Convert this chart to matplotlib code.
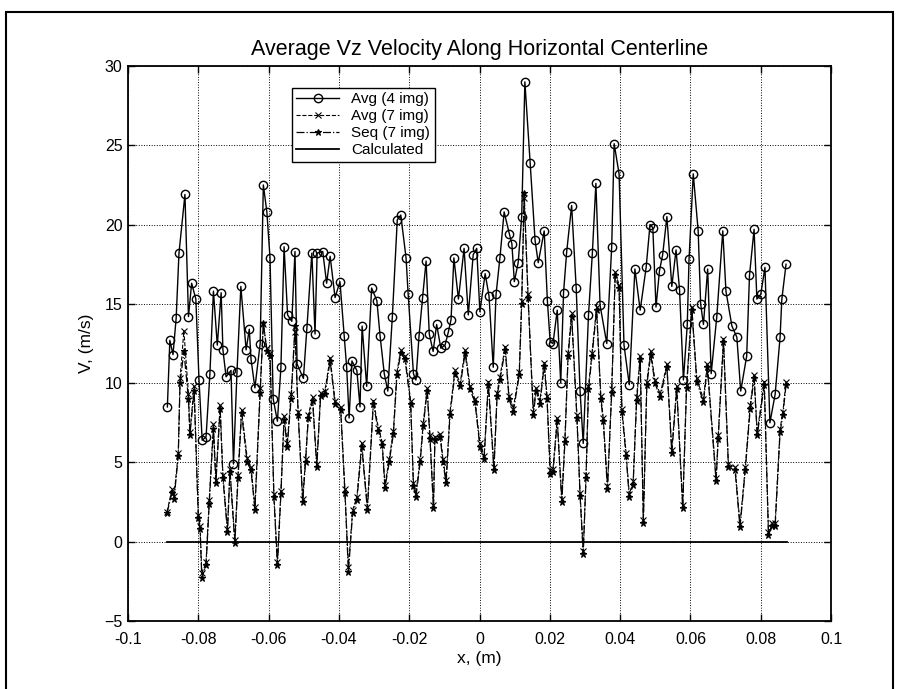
import matplotlib.pyplot as plt
from matplotlib import rcParams
from matplotlib.patches import Rectangle
import numpy as np

rcParams['font.family'] = 'sans-serif'
rcParams['font.sans-serif'] = ['Liberation Sans', 'DejaVu Sans']
rcParams['font.size'] = 11

# Avg (4 img) - circles : position (m) and velocity (m/s)
x_avg4 = [-0.0888, -0.0881, -0.0872, -0.0863, -0.0855, -0.0838, -0.0828, -0.0819, -0.0807, -0.0798,
          -0.0789, -0.0778, -0.0767, -0.0757, -0.0746, -0.0735, -0.0730, -0.0721, -0.0707, -0.0700,
          -0.0690, -0.0679, -0.0664, -0.0655, -0.0650, -0.0639, -0.0624, -0.0615, -0.0605, -0.0596,
          -0.0587, -0.0575, -0.0565, -0.0556, -0.0546, -0.0534, -0.0525, -0.0519, -0.0501, -0.0491,
          -0.0477, -0.0468, -0.0462, -0.0446, -0.0435, -0.0425, -0.0411, -0.0397, -0.0385, -0.0378,
          -0.0371, -0.0363, -0.0349, -0.0340, -0.0334, -0.0321, -0.0307, -0.0292, -0.0283, -0.0271,
          -0.0261, -0.0248, -0.0234, -0.0224, -0.0209, -0.0203, -0.0188, -0.0181, -0.0172, -0.0162,
          -0.0152, -0.0143, -0.0132, -0.0122, -0.0110, -0.0098, -0.0089, -0.0081, -0.0073, -0.0060,
          -0.0044, -0.0032, -0.0018, -0.0008, 0.0001, 0.0016, 0.0027, 0.0039, 0.0047, 0.0058,
          0.0070, 0.0085, 0.0092, 0.0099, 0.0110, 0.0120, 0.0129, 0.0144, 0.0158, 0.0167,
          0.0184, 0.0193, 0.0201, 0.0209, 0.0221, 0.0231, 0.0239, 0.0248, 0.0262, 0.0275,
          0.0286, 0.0295, 0.0310, 0.0321, 0.0331, 0.0343, 0.0362, 0.0376, 0.0383, 0.0397,
          0.0411, 0.0426, 0.0442, 0.0457, 0.0474, 0.0485, 0.0493, 0.0502, 0.0512, 0.0521,
          0.0533, 0.0547, 0.0559, 0.0569, 0.0580, 0.0591, 0.0596, 0.0608, 0.0622, 0.0629,
          0.0637, 0.0649, 0.0659, 0.0675, 0.0692, 0.0701, 0.0718, 0.0732, 0.0743, 0.0760,
          0.0768, 0.0781, 0.0789, 0.0800, 0.0812, 0.0826, 0.0841, 0.0855, 0.0860, 0.0872]
avg4 = [8.5, 12.7, 11.8, 14.1, 18.2, 21.9, 14.2, 16.3, 15.3, 10.2,
        6.4, 6.6, 10.6, 15.8, 12.4, 15.7, 12.1, 10.4, 10.8, 4.9,
        10.7, 16.1, 12.1, 13.4, 11.5, 9.7, 12.5, 22.5, 20.8, 17.9,
        9.0, 7.6, 11.0, 18.6, 14.3, 13.9, 18.3, 11.2, 10.3, 13.5,
        18.2, 13.1, 18.2, 18.3, 16.3, 18.0, 15.4, 16.4, 13.0, 11.0,
        7.8, 11.4, 10.8, 8.5, 13.6, 9.8, 16.0, 15.2, 13.0, 10.6,
        9.5, 14.2, 20.3, 20.6, 17.9, 15.6, 10.6, 10.2, 13.0, 15.4,
        17.7, 13.1, 12.0, 13.7, 12.2, 12.4, 13.2, 14.0, 17.9, 15.3,
        18.5, 14.3, 18.1, 18.5, 14.5, 16.9, 15.5, 11.0, 15.6, 17.9,
        20.8, 19.4, 18.8, 16.4, 17.6, 20.5, 29.0, 23.9, 19.0, 17.6,
        19.6, 15.2, 12.6, 12.5, 14.6, 10.0, 15.7, 18.3, 21.2, 16.0,
        9.5, 6.2, 14.3, 18.2, 22.6, 14.9, 12.5, 18.6, 25.1, 23.2,
        12.4, 9.9, 17.2, 14.6, 17.3, 20.0, 19.8, 14.8, 17.1, 18.1,
        20.5, 16.1, 18.4, 15.9, 10.2, 13.7, 17.8, 23.2, 19.6, 15.0,
        13.7, 17.2, 10.6, 14.2, 19.6, 15.8, 13.6, 12.9, 9.5, 11.7,
        16.8, 19.7, 15.3, 15.6, 17.3, 7.5, 9.3, 12.9, 15.3, 17.5]

# Avg (7 img) and Seq (7 img) share the same positions
x_7img = [-0.0889, -0.0875, -0.0869, -0.0857, -0.0852, -0.0841, -0.0828, -0.0824, -0.0812, -0.0800,
          -0.0795, -0.0790, -0.0778, -0.0769, -0.0757, -0.0750, -0.0738, -0.0730, -0.0717, -0.0710,
          -0.0696, -0.0687, -0.0677, -0.0661, -0.0650, -0.0639, -0.0624, -0.0615, -0.0605, -0.0596,
          -0.0585, -0.0575, -0.0565, -0.0556, -0.0547, -0.0536, -0.0525, -0.0516, -0.0503, -0.0495,
          -0.0487, -0.0475, -0.0463, -0.0452, -0.0440, -0.0425, -0.0411, -0.0395, -0.0383, -0.0373,
          -0.0361, -0.0349, -0.0335, -0.0319, -0.0302, -0.0288, -0.0277, -0.0269, -0.0257, -0.0245,
          -0.0235, -0.0224, -0.0212, -0.0196, -0.0188, -0.0181, -0.0169, -0.0160, -0.0149, -0.0141,
          -0.0131, -0.0127, -0.0112, -0.0104, -0.0095, -0.0084, -0.0070, -0.0055, -0.0041, -0.0027,
          -0.0013, 0.0001, 0.0013, 0.0025, 0.0041, 0.0050, 0.0058, 0.0073, 0.0084, 0.0096,
          0.0113, 0.0120, 0.0127, 0.0138, 0.0153, 0.0161, 0.0172, 0.0184, 0.0192, 0.0201,
          0.0209, 0.0221, 0.0234, 0.0243, 0.0252, 0.0262, 0.0277, 0.0286, 0.0295, 0.0303,
          0.0310, 0.0320, 0.0333, 0.0345, 0.0352, 0.0364, 0.0376, 0.0386, 0.0397, 0.0405,
          0.0417, 0.0426, 0.0437, 0.0447, 0.0457, 0.0466, 0.0476, 0.0487, 0.0499, 0.0514,
          0.0533, 0.0547, 0.0561, 0.0578, 0.0589, 0.0604, 0.0618, 0.0637, 0.0648, 0.0673,
          0.0679, 0.0694, 0.0708, 0.0727, 0.0741, 0.0756, 0.0770, 0.0781, 0.0790, 0.0810,
          0.0822, 0.0831, 0.0841, 0.0855, 0.0863, 0.0872]

seq7 = [1.8, 3.1, 2.7, 5.4, 10.0, 12.0, 9.0, 6.7, 9.5, 1.5,
        0.8, -2.3, -1.5, 2.4, 7.1, 3.7, 8.4, 4.0, 0.6, 4.4,
        -0.1, 4.0, 8.1, 5.0, 4.5, 2.0, 9.4, 13.8, 12.0, 11.7,
        2.8, -1.5, 3.0, 7.7, 6.0, 9.0, 13.6, 8.0, 2.5, 5.0,
        7.8, 8.9, 4.7, 9.2, 9.3, 11.4, 8.7, 8.3, 3.1, -1.9,
        1.8, 2.6, 6.0, 2.0, 8.7, 7.0, 6.1, 3.4, 5.0, 6.8,
        10.5, 11.9, 11.5, 8.7, 3.5, 2.8, 5.0, 7.3, 9.5, 6.5,
        2.1, 6.4, 6.6, 5.0, 3.7, 8.0, 10.6, 9.8, 11.9, 9.6,
        8.8, 6.0, 5.2, 9.9, 4.5, 9.2, 10.2, 12.1, 9.0, 8.2,
        10.5, 15.0, 22.0, 15.4, 8.0, 9.5, 8.7, 11.1, 9.0, 4.3,
        4.4, 7.6, 2.5, 6.3, 11.7, 14.2, 7.8, 2.9, -0.8, 4.0,
        9.6, 11.7, 14.6, 9.0, 7.6, 3.3, 9.4, 16.8, 16.0, 8.2,
        5.4, 2.8, 3.6, 8.9, 11.5, 1.2, 9.9, 11.8, 10.0, 9.1,
        11.0, 5.6, 9.6, 2.1, 9.7, 14.6, 10.1, 8.8, 11.0, 3.8,
        6.5, 12.6, 4.7, 4.5, 0.9, 4.5, 8.4, 10.3, 6.7, 9.9,
        0.4, 1.0, 1.0, 6.9, 8.0, 9.9]

avg7 = [1.9, 3.3, 2.9, 5.6, 10.3, 13.3, 9.3, 6.9, 9.8, 1.7,
        1.0, -2.0, -1.3, 2.6, 7.4, 3.9, 8.6, 4.2, 0.8, 4.6,
        0.1, 4.2, 8.3, 5.3, 4.7, 2.2, 9.7, 13.7, 12.2, 11.9,
        3.0, -1.3, 3.2, 7.9, 6.2, 9.3, 13.2, 8.2, 2.7, 5.2,
        8.0, 9.1, 4.9, 9.4, 9.5, 11.6, 8.9, 8.5, 3.3, -1.6,
        2.0, 2.8, 6.2, 2.2, 8.9, 7.2, 6.3, 3.6, 5.2, 7.0,
        10.7, 12.1, 11.7, 8.9, 3.7, 3.0, 5.2, 7.5, 9.7, 6.7,
        2.3, 6.6, 6.8, 5.2, 3.9, 8.2, 10.8, 10.0, 12.1, 9.8,
        9.0, 6.2, 5.4, 10.1, 4.7, 9.4, 10.4, 12.3, 9.2, 8.4,
        10.7, 15.2, 21.7, 15.6, 8.2, 9.7, 8.9, 11.3, 9.2, 4.5,
        4.6, 7.8, 2.7, 6.5, 11.9, 14.4, 8.0, 3.1, -0.6, 4.2,
        9.8, 11.9, 14.8, 9.2, 7.8, 3.5, 9.6, 17.0, 16.2, 8.4,
        5.6, 3.0, 3.8, 9.1, 11.7, 1.4, 10.1, 12.0, 10.2, 9.3,
        11.2, 5.8, 9.8, 2.3, 9.9, 14.8, 10.3, 9.0, 11.2, 4.0,
        6.7, 12.8, 4.9, 4.7, 1.1, 4.7, 8.6, 10.5, 6.9, 10.1,
        0.6, 1.2, 1.2, 7.1, 8.2, 10.1]

# Calculated - zero along the whole line
x_calc = [-0.0889, 0.0875]
calc = [0.0, 0.0]

fig = plt.figure(figsize=(9.04, 6.89), dpi=100)
ax = fig.add_axes([0.1416, 0.0987, 0.7777, 0.8055])

ax.plot(x_avg4, avg4, '-o', color='k', lw=1.0, ms=6, mfc='none', mew=1.0,
        label='Avg (4 img)')
ax.plot(x_7img, avg7, '--x', color='k', lw=0.8, ms=4, mew=0.8,
        label='Avg (7 img)')
ax.plot(x_7img, seq7, '-.*', color='k', lw=0.9, ms=5, mew=0.8,
        label='Seq (7 img)')
ax.plot(x_calc, calc, '-', color='k', lw=1.3, label='Calculated')

ax.set_xlim(-0.1, 0.1)
ax.set_ylim(-5, 30)
ax.set_xticks(np.arange(-0.1, 0.101, 0.02))
ax.set_xticklabels(['-0.1', '-0.08', '-0.06', '-0.04', '-0.02', '0',
                    '0.02', '0.04', '0.06', '0.08', '0.1'])
ax.set_yticks(np.arange(-5, 31, 5))
ax.tick_params(direction='in', length=5, width=1, labelsize=11.5,
               top=True, right=True)
ax.tick_params(axis='x', pad=8)
ax.tick_params(axis='y', pad=4)
ax.grid(True, linestyle=':', color='k', lw=0.7)
for s in ax.spines.values():
    s.set_linewidth(1.3)

ax.set_title('Average Vz Velocity Along Horizontal Centerline', fontsize=15.5, pad=8)
ax.set_xlabel('x, (m)', fontsize=12.5, labelpad=3)
ax.set_ylabel('V, (m/s)', fontsize=12.5, labelpad=7)

leg = ax.legend(loc='upper left', bbox_to_anchor=(0.222, 0.975), fontsize=11,
                frameon=True, fancybox=False, edgecolor='k', framealpha=1,
                handlelength=2.8, borderpad=0.3, labelspacing=0.2,
                handletextpad=0.8)
leg.get_frame().set_linewidth(1.0)

# scanned page frame
fig.patches.append(Rectangle((6 / 904, -0.05), 887 / 904, 1.05 - 12 / 689,
                             transform=fig.transFigure, fill=False,
                             edgecolor='k', lw=1.5))

fig.savefig('out.png', dpi=100)
